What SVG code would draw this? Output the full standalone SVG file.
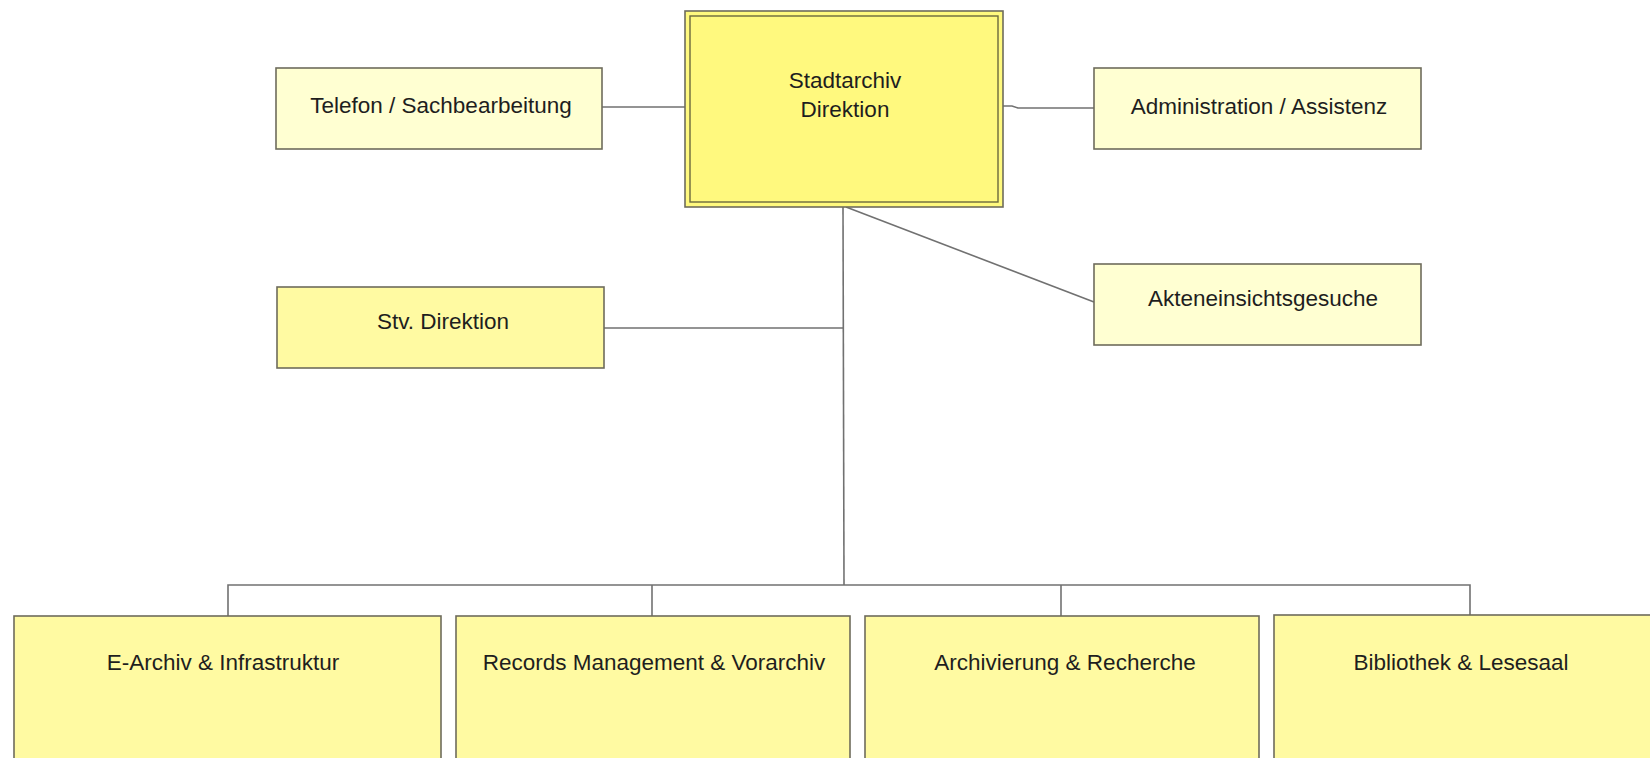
<svg xmlns="http://www.w3.org/2000/svg" width="1650" height="758" viewBox="0 0 1650 758">
<style>
.box{stroke:#6e6c5c;stroke-width:1.6}
.pale{fill:#ffffd2}
.mid{fill:#fffaa2}
.main{fill:#fff97e}
.conn{stroke:#717171;stroke-width:1.6;fill:none}
text{font-family:"Liberation Sans",Arial,sans-serif;font-size:22.5px;fill:#1e1e1e;text-anchor:middle}
</style>
<rect width="1650" height="758" fill="#ffffff"/>
<g id="connectors">
<line class="conn" x1="602" y1="107" x2="685" y2="107"/>
<polyline class="conn" points="1003,106 1012,106 1018,108 1094,108"/>
<line class="conn" x1="843" y1="207" x2="844" y2="585"/>
<line class="conn" x1="846" y1="207" x2="1094" y2="302"/>
<line class="conn" x1="604" y1="328" x2="843" y2="328"/>
<polyline class="conn" points="228,616 228,585 1470,585 1470,616"/>
<line class="conn" x1="652" y1="585" x2="652" y2="616"/>
<line class="conn" x1="1061" y1="585" x2="1061" y2="616"/>
</g>
<g id="node-direktion">
<rect class="box main" x="685" y="11" width="318" height="196" stroke="#6b6a3e"/>
<rect x="690" y="16" width="308" height="186" fill="none" stroke="#6b6a3e" stroke-width="1.4"/>
<text x="845" y="88">Stadtarchiv</text>
<text x="845" y="117">Direktion</text>
</g>
<g id="node-telefon">
<rect class="box pale" x="276" y="68" width="326" height="81"/>
<text x="441" y="113">Telefon / Sachbearbeitung</text>
</g>
<g id="node-admin">
<rect class="box pale" x="1094" y="68" width="327" height="81"/>
<text x="1259" y="114">Administration / Assistenz</text>
</g>
<g id="node-stv">
<rect class="box mid" x="277" y="287" width="327" height="81"/>
<text x="443" y="329">Stv. Direktion</text>
</g>
<g id="node-akten">
<rect class="box pale" x="1094" y="264" width="327" height="81"/>
<text x="1263" y="306">Akteneinsichtsgesuche</text>
</g>
<g id="node-earchiv">
<rect class="box mid" x="14" y="616" width="427" height="160"/>
<text x="223" y="670">E-Archiv &amp; Infrastruktur</text>
</g>
<g id="node-records">
<rect class="box mid" x="456" y="616" width="394" height="160" stroke="#2a2a2a"/>
<text x="654" y="670">Records Management &amp; Vorarchiv</text>
</g>
<g id="node-archivierung">
<rect class="box mid" x="865" y="616" width="394" height="160"/>
<text x="1065" y="670">Archivierung &amp; Recherche</text>
</g>
<g id="node-bibliothek">
<rect class="box mid" x="1274" y="615" width="400" height="160"/>
<text x="1461" y="670">Bibliothek &amp; Lesesaal</text>
</g>
</svg>
